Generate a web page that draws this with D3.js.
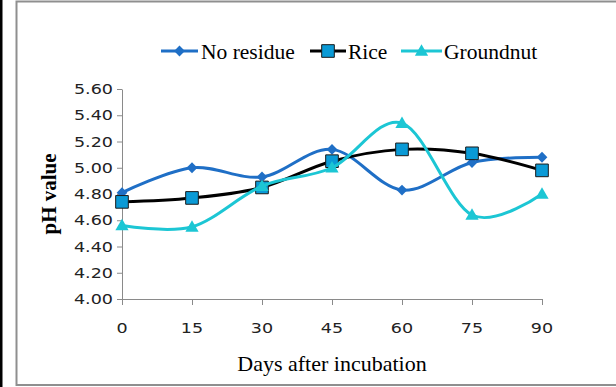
<!DOCTYPE html>
<html>
<head>
<meta charset="utf-8">
<script src="https://cdn.jsdelivr.net/npm/d3@7"></script>
<style>
  html, body { margin: 0; padding: 0; background: #fff; }
  svg { display: block; }
</style>
</head>
<body>
<svg id="chart" width="616" height="387"></svg>
<script>
// ---- data ----
const days = [0, 15, 30, 45, 60, 75, 90];
const noResidue = [4.81, 5.00, 4.93, 5.14, 4.83, 5.04, 5.08];
const rice      = [4.74, 4.77, 4.85, 5.05, 5.14, 5.11, 4.98];
const groundnut = [4.56, 4.55, 4.86, 5.00, 5.34, 4.64, 4.80];
const yTicks = [4.0, 4.2, 4.4, 4.6, 4.8, 5.0, 5.2, 5.4, 5.6];
const seriesNames = ["No residue", "Rice", "Groundnut"];

// ---- layout ----
const svg = d3.select("#chart");
const W = 616, H = 387;
const plot = { left: 122, right: 542, top: 89, bottom: 299 };

svg.append("rect").attr("x", 0).attr("y", 0).attr("width", W).attr("height", H).attr("fill", "#fff");
svg.append("rect").attr("x", 0).attr("y", 0).attr("width", 2.5).attr("height", H).attr("fill", "#000");
svg.append("rect").attr("x", 16.5).attr("y", 1.5).attr("width", 640).attr("height", 383.5)
  .attr("fill", "none").attr("stroke", "#8f8f8f").attr("stroke-width", 2);

const x = d3.scalePoint().domain(days).range([plot.left, plot.right]);
const y = d3.scaleLinear().domain([4.0, 5.6]).range([plot.bottom, plot.top]);

const axisColor = "#8a8a8a";
const sansFont = "'DejaVu Sans', Verdana, sans-serif";
const serifFont = "'Liberation Serif', 'Times New Roman', serif";

function stext(g, px, py, str, o) {
  return g.append("text")
    .attr("transform", `translate(${px},${py}) scale(${o.sx || 1},1)`)
    .attr("text-anchor", o.anchor || "start")
    .attr("font-family", o.family)
    .attr("font-size", o.size)
    .attr("font-weight", o.weight || "normal")
    .attr("fill", o.fill || "#000")
    .text(str);
}

// y axis
const yAxis = d3.axisLeft(y).tickValues(yTicks).tickSize(5).tickSizeOuter(0).tickFormat("");
const gy = svg.append("g").attr("transform", `translate(${plot.left},0)`).call(yAxis);
gy.select(".domain").attr("stroke", axisColor);
gy.selectAll(".tick line").attr("stroke", axisColor);
yTicks.forEach(t => {
  stext(svg, 113, y(t) + 5, d3.format(".2f")(t), { anchor: "end", family: sansFont, size: 13.5, sx: 1.3, fill: "#222" });
});

// x axis
const xAxis = d3.axisBottom(x).tickSize(6).tickSizeOuter(0).tickFormat("");
const gx = svg.append("g").attr("transform", `translate(0,${plot.bottom})`).call(xAxis);
gx.select(".domain").attr("stroke", axisColor);
gx.selectAll(".tick line").attr("stroke", axisColor);
days.forEach(d => {
  stext(svg, x(d), 333, String(d), { anchor: "middle", family: sansFont, size: 13.5, sx: 1.3, fill: "#222" });
});

// titles
stext(svg, 332, 370.5, "Days after incubation", { anchor: "middle", family: serifFont, size: 22 });
svg.append("text")
  .attr("transform", `translate(56,194) rotate(-90)`)
  .attr("text-anchor", "middle")
  .attr("font-family", serifFont)
  .attr("font-size", 21)
  .attr("font-weight", "bold")
  .text("pH value");

// series
const colors = ["#1f6fc6", "#000000", "#1cc6d4"];
const allSeries = [noResidue, rice, groundnut];
const line = d3.line().x((d, i) => x(days[i])).y(d => y(d)).curve(d3.curveCatmullRom.alpha(0));

function marker(g, kind, cx, cy) {
  if (kind === 0) {
    g.append("path").attr("d", d3.symbol(d3.symbolSquare, 58)())
      .attr("transform", `translate(${cx},${cy}) rotate(45)`)
      .attr("fill", colors[0]);
  } else if (kind === 1) {
    g.append("path").attr("d", d3.symbol(d3.symbolSquare, 160)())
      .attr("transform", `translate(${cx},${cy})`)
      .attr("fill", "#0a9ad6").attr("stroke", "#1a1a1a").attr("stroke-width", 1);
  } else {
    g.append("path").attr("d", d3.symbol(d3.symbolTriangle, 76)())
      .attr("transform", `translate(${cx},${cy + 1})`)
      .attr("fill", colors[2]);
  }
}

allSeries.forEach((vals, si) => {
  const g = svg.append("g");
  g.append("path").datum(vals).attr("d", line)
    .attr("fill", "none").attr("stroke", colors[si]).attr("stroke-width", 3)
    .attr("stroke-linejoin", "round");
  vals.forEach((v, i) => marker(g, si, x(days[i]), y(v)));
});

// legend
const legendItems = [
  { x1: 161, x2: 198, tx: 201 },
  { x1: 310, x2: 346, tx: 348 },
  { x1: 401, x2: 442, tx: 444 }
];
legendItems.forEach((it, si) => {
  const g = svg.append("g");
  g.append("line").attr("x1", it.x1).attr("x2", it.x2).attr("y1", 51).attr("y2", 51)
    .attr("stroke", colors[si]).attr("stroke-width", 3);
  marker(g, si, (it.x1 + it.x2) / 2, 51);
  stext(g, it.tx, 58.5, seriesNames[si], { family: serifFont, size: 21.5 });
});
</script>
</body>
</html>
